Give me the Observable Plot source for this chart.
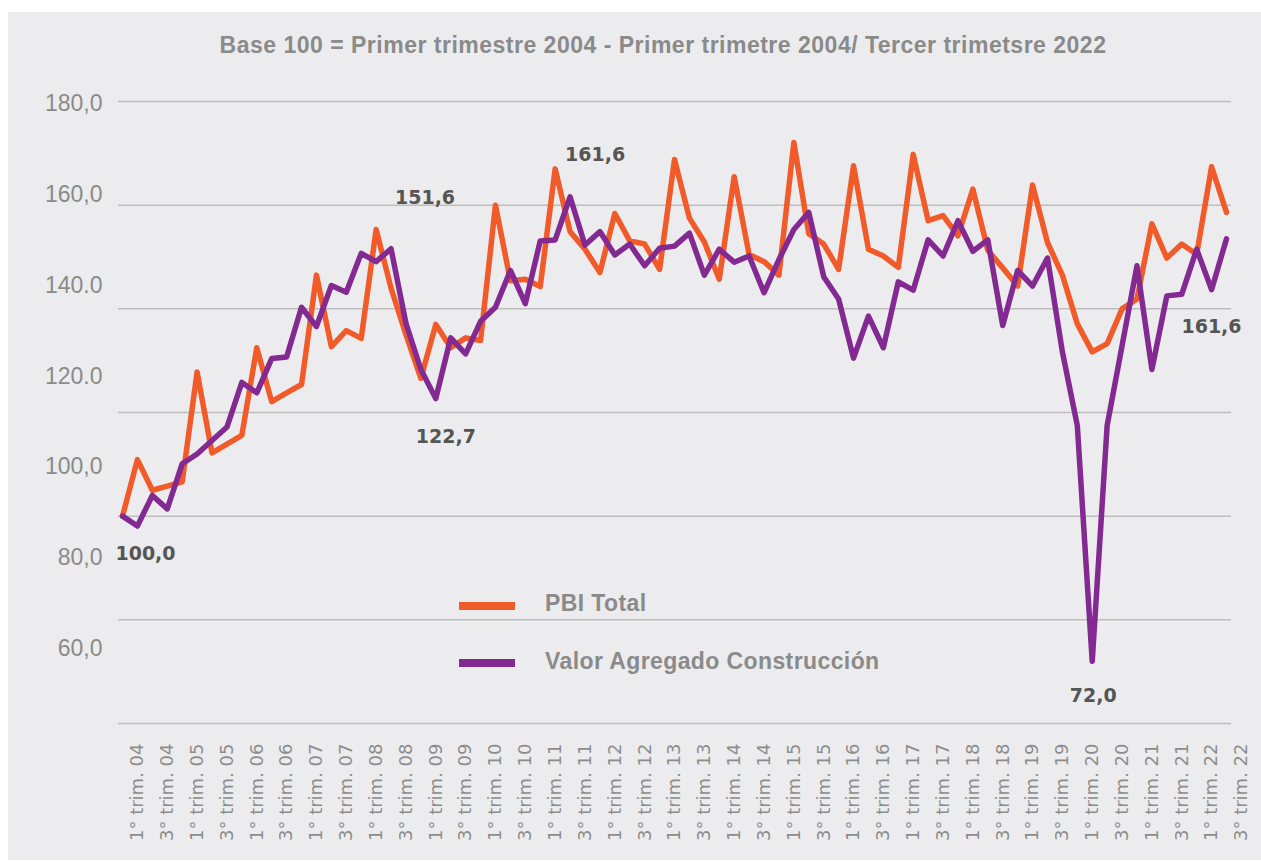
<!DOCTYPE html>
<html><head><meta charset="utf-8">
<script src="https://cdn.jsdelivr.net/npm/d3@7"></script>
<script src="https://cdn.jsdelivr.net/npm/@observablehq/plot@0.6"></script>
<style>
html,body{margin:0;padding:0;background:#fff;}
#wrap{position:relative;width:1261px;height:861px;overflow:hidden;}
#panel{position:absolute;left:8px;top:12px;width:1253px;height:848px;background:#ECECEE;}
#title{position:absolute;left:663px;top:32px;transform:translateX(-50%);white-space:nowrap;font:bold 23px "Liberation Sans",Arial,sans-serif;letter-spacing:0.5px;line-height:26px;color:#8a8a8a;}
#chart{position:absolute;left:0;top:0;}
.sw{position:absolute;left:459px;width:56px;height:8px;}
.lt{position:absolute;left:545px;font:bold 23px "Liberation Sans",Arial,sans-serif;letter-spacing:0.4px;color:#8a8a8a;white-space:nowrap;line-height:26px;}
</style></head><body>
<div id="wrap">
  <div id="panel"></div>
  <div id="title"></div>
  <div id="chart"></div>
  <div id="legend"></div>
</div>
<script>
const titleText = "Base 100 = Primer trimestre 2004 - Primer trimetre 2004/ Tercer trimetsre 2022";
const seriesNames = ["PBI Total", "Valor Agregado Construcción"];
const seriesColors = ["#F15A29", "#822A91"];
const years = ["04","05","06","07","08","09","10","11","12","13","14","15","16","17","18","19","20","21","22"];
const quarterNames = ["1°","2°","3°","4°"];
const quarters = years.flatMap(y => quarterNames.map(q => `${q} trim. ${y}`)).slice(0, 75);
const xTickLabels = quarters.filter(q => q.startsWith("1°") || q.startsWith("3°"));

const pbiTotal = [
  100.0, 110.9, 105.0, 105.8, 106.6, 127.8, 112.2, 113.9, 115.6, 132.5,
  122.1, 123.8, 125.4, 146.5, 132.7, 135.8, 134.3, 155.3, 144.0, 135.0,
  126.6, 137.0, 132.5, 134.4, 133.9, 160.0, 145.4, 145.7, 144.3, 167.0,
  154.9, 151.5, 147.0, 158.4, 153.1, 152.5, 147.6, 168.8, 157.5, 152.9,
  145.7, 165.5, 150.5, 149.1, 146.5, 172.1, 154.5, 152.5, 147.6, 167.6,
  151.5, 150.2, 148.0, 169.8, 157.0, 158.0, 154.1, 163.1, 151.3, 147.9,
  144.4, 163.9, 152.8, 146.5, 137.1, 131.7, 133.3, 140.0, 141.9, 156.4,
  149.8, 152.5, 150.5, 167.4, 158.6
];
const construccion = [
  100.0, 98.1, 104.0, 101.4, 110.1, 112.0, 114.6, 117.2, 125.8, 123.8,
  130.4, 130.7, 140.3, 136.6, 144.5, 143.2, 150.7, 149.1, 151.6, 137.2,
  128.3, 122.7, 134.4, 131.3, 137.6, 140.3, 147.4, 141.0, 153.1, 153.3,
  161.6, 152.3, 154.9, 150.4, 152.5, 148.3, 151.7, 152.1, 154.6, 146.5,
  151.5, 149.0, 150.2, 143.1, 149.5, 155.3, 158.6, 146.2, 141.9, 130.5,
  138.6, 132.5, 145.2, 143.6, 153.3, 150.2, 157.0, 151.1, 153.3, 136.8,
  147.4, 144.4, 149.8, 131.7, 117.5, 72.0, 117.5, 132.9, 148.3, 128.3,
  142.5, 142.8, 151.5, 143.7, 153.5
];
const gridValues = [60, 80, 100, 120, 140, 160, 180];
const yTickLabels = ["180,0", "160,0", "140.0", "120.0", "100,0", "80,0", "60,0"];
// data labels as printed on the chart: [quarter index, text, dx, dy]
const annotations = [
  [0, "100,0", 23, 38],
  [18, "151,6", 34, -51],
  [21, "122,7", 10, 38],
  [30, "161,6", 25, -42],
  [65, "72,0", 1, 35],
  [74, "161,6", -15, 88]
];

document.getElementById("title").textContent = titleText;

const rows = [];
quarters.forEach((q, i) => {
  rows.push({q, serie: seriesNames[0], v: pbiTotal[i]});
});
quarters.forEach((q, i) => {
  rows.push({q, serie: seriesNames[1], v: construccion[i]});
});

// y tick labels sit evenly spread, offset from the grid lines as in the original
const labelPos = d3.scaleLinear([0, yTickLabels.length - 1], [179.6, 74.4]);

const chart = Plot.plot({
  width: 1261,
  height: 861,
  marginLeft: 118,
  marginRight: 30,
  marginTop: 101,
  marginBottom: 138,
  style: {background: "transparent", fontFamily: "DejaVu Sans"},
  x: {type: "point", domain: quarters, padding: 0, insetLeft: 4, insetRight: 5},
  y: {domain: [60, 180], axis: null},
  color: {domain: seriesNames, range: seriesColors},
  marks: [
    Plot.ruleY(gridValues, {stroke: "#BDBDBD", strokeWidth: 1.5}),
    Plot.axisX({ticks: xTickLabels, tickRotate: -90, tickSize: 0, tickPadding: 20, dx: 15,
      fontSize: 18, fill: "#8c8c8c", label: null, fontFamily: "DejaVu Sans"}),
    Plot.text(yTickLabels, {y: (d, i) => labelPos(i), text: d => d, frameAnchor: "left",
      textAnchor: "end", dx: -16, fontSize: 23, fill: "#8a8a8a", fontFamily: "Liberation Sans"}),
    Plot.line(rows, {x: "q", y: "v", z: "serie", stroke: "serie", strokeWidth: 5.5,
      strokeLinejoin: "round", strokeLinecap: "round"}),
    ...annotations.map(([i, t, dx, dy]) => Plot.text([i], {
      x: d => quarters[d], y: d => construccion[d], text: () => t, dx, dy,
      fontSize: 19, fontWeight: "bold", fill: "#555555"}))
  ]
});
document.getElementById("chart").appendChild(chart);

const legend = document.getElementById("legend");
const swTops = [602, 659];
const txTops = [590, 648];
seriesNames.forEach((s, i) => {
  const sw = document.createElement("div");
  sw.className = "sw"; sw.style.top = swTops[i] + "px"; sw.style.background = seriesColors[i];
  legend.appendChild(sw);
  const tx = document.createElement("div");
  tx.className = "lt"; tx.style.top = txTops[i] + "px"; tx.textContent = s;
  legend.appendChild(tx);
});
</script>
</body></html>
